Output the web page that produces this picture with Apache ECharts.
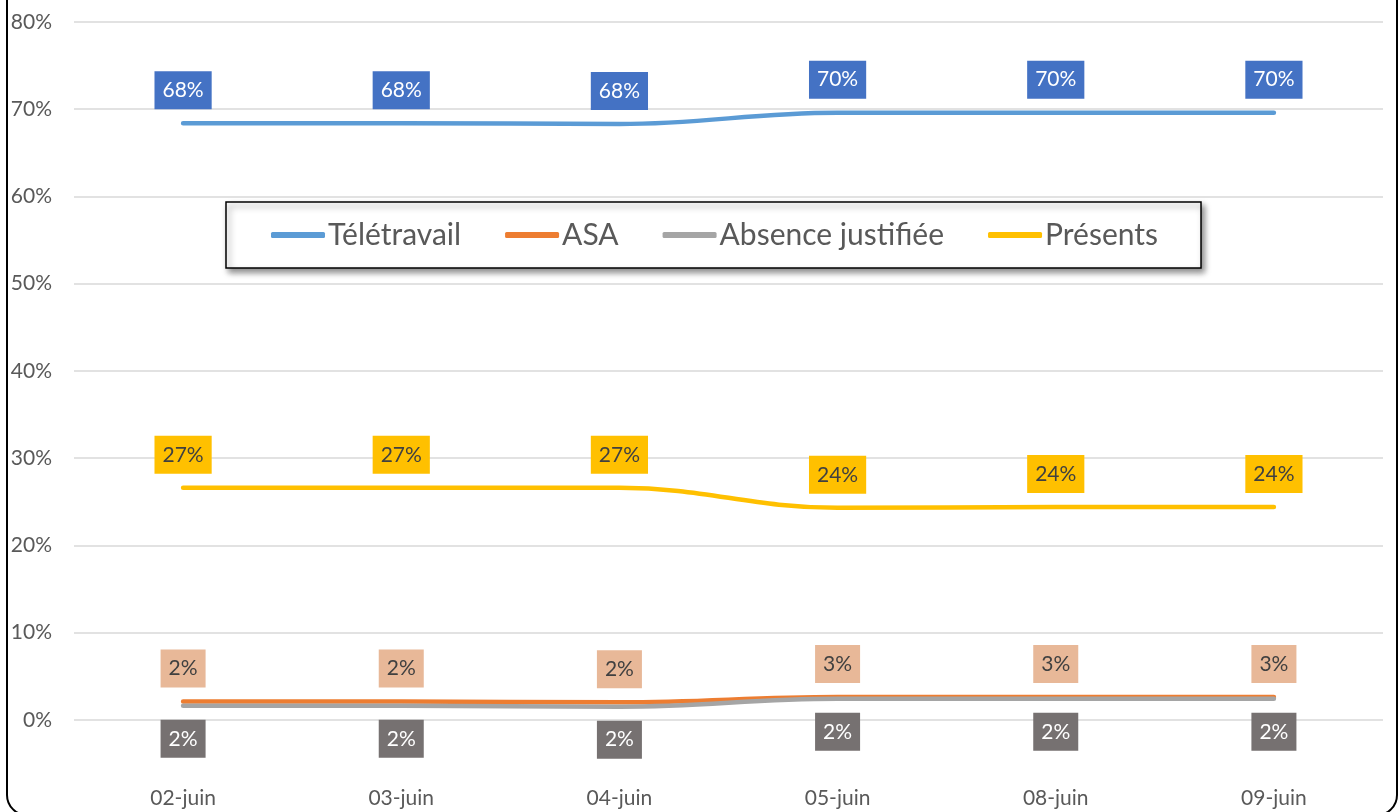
<!DOCTYPE html>
<html><head><meta charset="utf-8">
<script src="https://cdn.jsdelivr.net/npm/echarts@6/dist/echarts.min.js"></script>
<style>html,body{margin:0;padding:0;background:#fff}#c{width:1399px;height:812px}</style>
</head><body><div id="c"></div>
<script>
const categories = ['02-juin','03-juin','04-juin','05-juin','08-juin','09-juin'];
const teletravail = [0.684, 0.684, 0.683, 0.696, 0.696, 0.696];
const asa = [0.021, 0.021, 0.020, 0.026, 0.026, 0.026];
const absence = [0.016, 0.016, 0.015, 0.024, 0.024, 0.024];
const presents = [0.266, 0.266, 0.266, 0.243, 0.244, 0.244];
const yTicks = [-0.1, 0.8, 0.1];

const FONT = 'Lato';
const pct = v => Math.round(v * 100) + '%';
function mkSeries(name, data, lineColor, labelBg, labelColor, pos) {
  return {
    name, type: 'line', data, smooth: 0.4,
    symbol: 'circle', symbolSize: 0, showSymbol: true,
    lineStyle: { color: lineColor, width: 4.5, cap: 'round' },
    itemStyle: { color: lineColor },
    label: {
      show: true, position: pos, distance: 14,
      formatter: p => pct(p.value),
      backgroundColor: labelBg, color: labelColor,
      fontFamily: FONT, fontSize: 21, lineHeight: 22, padding: [8, 8]
    },
    emphasis: { disabled: true }
  };
}
const chart = echarts.init(document.getElementById('c'));
chart.setOption({
  animation: false,
  grid: { left: 74, right: 16, top: 22, bottom: 5, containLabel: false },
  xAxis: {
    type: 'category', data: categories, boundaryGap: true,
    axisLine: { show: false }, axisTick: { show: false },
    axisLabel: { margin: -19, color: '#595959', fontFamily: FONT, fontSize: 21 }
  },
  yAxis: {
    type: 'value', min: yTicks[0], max: yTicks[1], interval: yTicks[2],
    axisLine: { show: false }, axisTick: { show: false },
    axisLabel: { margin: 22, color: '#595959', fontFamily: FONT, fontSize: 21,
      formatter: v => v < 0 ? '' : Math.round(v * 100) + '%' },
    splitLine: { lineStyle: { width: 1.5, color: ['rgba(0,0,0,0)', '#D9D9D9', '#D9D9D9', '#D9D9D9', '#D9D9D9', '#D9D9D9', '#D9D9D9', '#D9D9D9', '#D9D9D9', '#D9D9D9'] } }
  },
  legend: {
    left: 226, top: 202, orient: 'horizontal',
    padding: [18, 43, 18, 45], itemGap: 44,
    itemWidth: 54, itemHeight: 6, icon: 'roundRect',
    backgroundColor: '#fff', borderColor: '#000', borderWidth: 1.5,
    shadowBlur: 6, shadowOffsetX: 3, shadowOffsetY: 4, shadowColor: 'rgba(0,0,0,0.45)',
    textStyle: { color: '#595959', fontFamily: FONT, fontSize: 30, lineHeight: 29, padding: [0, 0, 0, -2] },
    data: ['Télétravail', 'ASA', 'Absence justifiée', 'Présents']
  },
  graphic: [{
    type: 'rect', z: 100, silent: true,
    shape: { x: 7, y: -30, width: 1390, height: 845, r: 20 },
    style: { fill: 'none', stroke: '#000', lineWidth: 2 }
  }],
  series: [
    mkSeries('Télétravail', teletravail, '#5B9BD5', '#4472C4', '#fff', 'top'),
    mkSeries('ASA', asa, '#ED7D31', '#E8B898', '#404040', 'top'),
    mkSeries('Absence justifiée', absence, '#A5A5A5', '#767171', '#fff', 'bottom'),
    mkSeries('Présents', presents, '#FFC000', '#FFC000', '#404040', 'top')
  ]
});
</script></body></html>
